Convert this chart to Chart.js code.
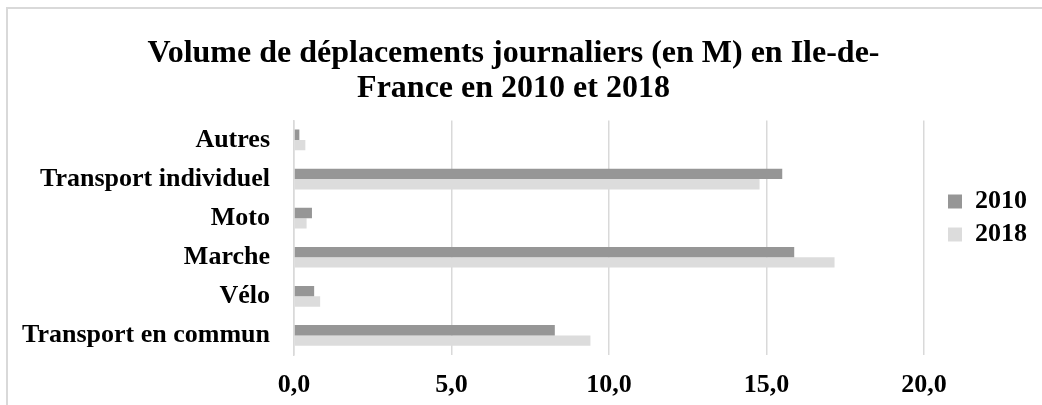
<!DOCTYPE html>
<html>
<head>
<meta charset="utf-8">
<script src="https://cdn.jsdelivr.net/npm/chart.js@4.4.1/dist/chart.umd.min.js"></script>
<style>
    html, body { margin: 0; padding: 0; background: #fff; }
    body { width: 1042px; height: 405px; position: relative; overflow: hidden; }
    .frame { position: absolute; left: 6px; top: 7px; width: 1100px; height: 500px; border-top: 2px solid #d9d9d9; border-left: 2px solid #d9d9d9; }
    #chart { position: absolute; left: 0; top: 0; }
</style>
</head>
<body>
<div class="frame"></div>
<canvas id="chart" width="1042" height="405"></canvas>
<script>
const categories = ['Autres', 'Transport individuel', 'Moto', 'Marche', 'Vélo', 'Transport en commun'];
const values2010 = [0.17, 15.5, 0.57, 15.88, 0.64, 8.28];
const values2018 = [0.36, 14.78, 0.40, 17.16, 0.83, 9.41];
const seriesLabels = ['2010', '2018'];
const xTicks = [0, 5, 10, 15, 20];

const serif = "'Liberation Serif', 'Times New Roman', serif";

// nudge the legend to sit where Excel puts it
const legendShift = {
    id: 'legendShift',
    afterLayout(chart) {
        const lg = chart.legend;
        const dx = chart.chartArea.right + 24 - (lg.left + 7);
        lg.left += dx;
        lg.right += dx;
        lg.top += 17;
        lg.bottom += 17;
    }
};

window.addEventListener('DOMContentLoaded', function () {
    const ctx = document.getElementById('chart');

    new Chart(ctx, {
        type: 'bar',
        data: {
            labels: categories,
            datasets: [
                {
                    label: seriesLabels[0],
                    data: values2010,
                    backgroundColor: '#969696',
                    borderWidth: 0,
                },
                {
                    label: seriesLabels[1],
                    data: values2018,
                    backgroundColor: '#dcdcdc',
                    borderWidth: 0,
                }
            ]
        },
        options: {
            indexAxis: 'y',
            responsive: false,
            animation: false,
            categoryPercentage: 0.53,
            barPercentage: 1,
            layout: {
                padding: {left: 7, right: 22, top: 0, bottom: 3}
            },
            scales: {
                x: {
                    min: 0,
                    max: 20,
                    afterBuildTicks: scale => {
                        scale.ticks = xTicks.map(v => ({value: v}));
                    },
                    afterFit: scale => {
                        scale.height = 47;
                    },
                    grid: {
                        color: '#d9d9d9',
                        lineWidth: 1.5,
                        drawTicks: false,
                    },
                    border: {display: false},
                    ticks: {
                        padding: 15,
                        color: '#000',
                        font: {family: serif, size: 26, weight: 'bold'},
                        callback: value => value.toFixed(1).replace('.', ',')
                    }
                },
                y: {
                    afterFit: scale => {
                        scale.width = 287;
                    },
                    grid: {display: false, drawTicks: false},
                    border: {display: true, color: '#d9d9d9', width: 1.5},
                    ticks: {
                        padding: 24,
                        color: '#000',
                        font: {family: serif, size: 26, weight: 'bold'}
                    }
                }
            },
            plugins: {
                title: {
                    display: true,
                    text: ['Volume de déplacements journaliers (en M) en Ile-de-', 'France en 2010 et 2018'],
                    color: '#000',
                    font: {family: serif, size: 32, weight: 'bold', lineHeight: 1.1},
                    padding: {top: 36, bottom: 14}
                },
                legend: {
                    position: 'right',
                    labels: {
                        color: '#000',
                        boxWidth: 14,
                        boxHeight: 14,
                        padding: 7,
                        font: {family: serif, size: 26, weight: 'bold'}
                    }
                },
                tooltip: {enabled: false}
            }
        },
        plugins: [legendShift]
    })
})
</script>
</body>
</html>
